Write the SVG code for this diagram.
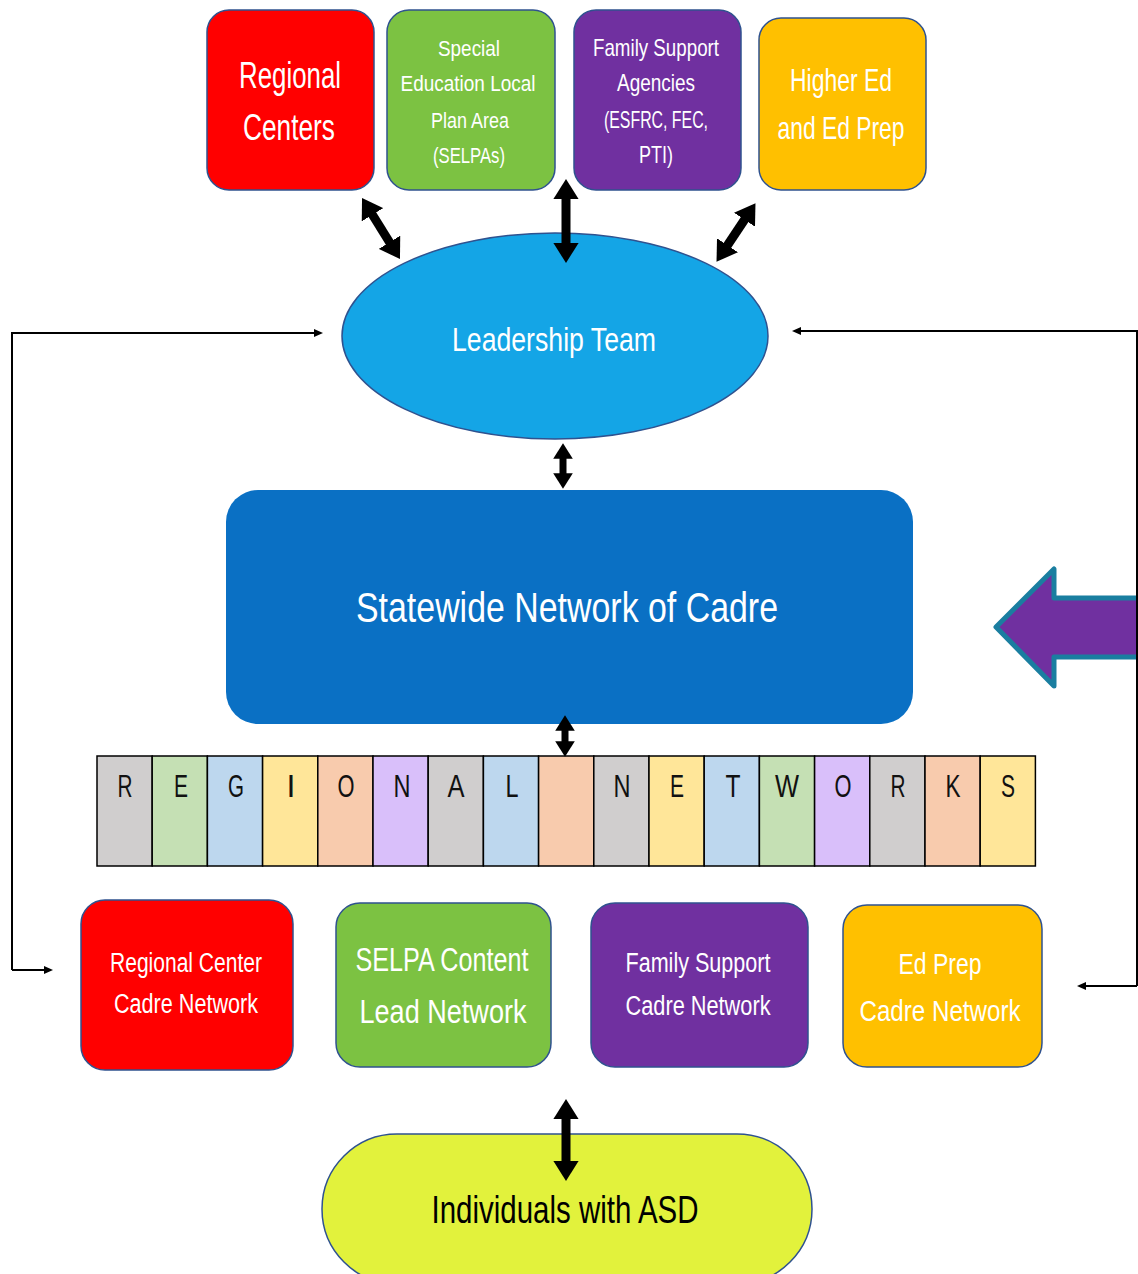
<svg xmlns="http://www.w3.org/2000/svg" width="1138" height="1274" viewBox="0 0 1138 1274">
<defs>
<marker id="big" viewBox="0 -1.4 2.2 2.8" refX="0.1" refY="0" markerWidth="2.2" markerHeight="2.8" orient="auto-start-reverse"><path d="M0,-1.4 L2.2,0 L0,1.4 z" fill="#000"/></marker>
<marker id="thin" viewBox="0 -4 9 8" refX="1" refY="0" markerUnits="userSpaceOnUse" markerWidth="9" markerHeight="8" orient="auto"><path d="M0,-4 L9,0 L0,4 z" fill="#000"/></marker>
<style>
.t{font-family:"Liberation Sans Narrow","Liberation Sans",Arial,sans-serif;text-anchor:middle;fill:#fff}
.k{fill:#000}
.box{stroke:#2F528F;stroke-width:1.5}
.red{fill:#FF0000}.grn{fill:#7CC242}.pur{fill:#7030A0}.org{fill:#FFC000}
.dbl{stroke:#000;stroke-width:9;fill:none;marker-start:url(#big);marker-end:url(#big)}
.fb{stroke:#000;stroke-width:2;fill:none}
.cell{stroke:#000;stroke-width:1.5}
.let{font-family:"Liberation Sans Narrow","Liberation Sans",Arial,sans-serif;font-size:32px;text-anchor:middle;fill:#111}
</style>
</defs>
<rect width="1138" height="1274" fill="#fff"/>

<g id="regional-centers"><rect class="box red" x="207" y="10" width="167" height="180" rx="22"/>
<text class="t" x="290" y="88" font-size="36" textLength="102" lengthAdjust="spacingAndGlyphs">Regional</text>
<text class="t" x="289" y="140" font-size="36" textLength="92" lengthAdjust="spacingAndGlyphs">Centers</text></g>

<g id="selpas"><rect class="box grn" x="387" y="10" width="168" height="180" rx="22"/>
<text class="t" x="469" y="56" font-size="22" textLength="62" lengthAdjust="spacingAndGlyphs">Special</text>
<text class="t" x="468" y="91" font-size="22" textLength="135" lengthAdjust="spacingAndGlyphs">Education Local</text>
<text class="t" x="470" y="128" font-size="22" textLength="78" lengthAdjust="spacingAndGlyphs">Plan Area</text>
<text class="t" x="469" y="163" font-size="22" textLength="72" lengthAdjust="spacingAndGlyphs">(SELPAs)</text></g>

<g id="family-support-agencies"><rect class="box pur" x="574" y="10" width="167" height="180" rx="22"/>
<text class="t" x="656" y="56" font-size="24" textLength="126" lengthAdjust="spacingAndGlyphs">Family Support</text>
<text class="t" x="656" y="91" font-size="24" textLength="78" lengthAdjust="spacingAndGlyphs">Agencies</text>
<text class="t" x="656" y="128" font-size="24" textLength="104" lengthAdjust="spacingAndGlyphs">(ESFRC, FEC,</text>
<text class="t" x="656" y="163" font-size="24" textLength="34" lengthAdjust="spacingAndGlyphs">PTI)</text></g>

<g id="higher-ed"><rect class="box org" x="759" y="18" width="167" height="172" rx="22"/>
<text class="t" x="841" y="91" font-size="32" textLength="102" lengthAdjust="spacingAndGlyphs">Higher Ed</text>
<text class="t" x="841" y="139" font-size="32" textLength="127" lengthAdjust="spacingAndGlyphs">and Ed Prep</text></g>

<g id="leadership-team"><ellipse cx="555" cy="336" rx="213" ry="103" fill="#14A5E6" stroke="#2F528F" stroke-width="1.5"/>
<text class="t" x="554" y="351" font-size="34" textLength="204" lengthAdjust="spacingAndGlyphs">Leadership Team</text></g>

<g id="statewide-network"><rect x="226" y="490" width="687" height="234" rx="32" fill="#0A70C4"/>
<text class="t" x="567" y="622" font-size="42" textLength="422" lengthAdjust="spacingAndGlyphs">Statewide Network of Cadre</text></g>

<g id="regional-networks">
<rect class="cell" x="97" y="756" width="55.2" height="110" fill="#D0CECE"/>
<rect class="cell" x="152.2" y="756" width="55.2" height="110" fill="#C5E0B4"/>
<rect class="cell" x="207.4" y="756" width="55.2" height="110" fill="#BDD7EE"/>
<rect class="cell" x="262.6" y="756" width="55.2" height="110" fill="#FFE699"/>
<rect class="cell" x="317.8" y="756" width="55.2" height="110" fill="#F8CBAD"/>
<rect class="cell" x="373" y="756" width="55.2" height="110" fill="#D9BFFA"/>
<rect class="cell" x="428.2" y="756" width="55.2" height="110" fill="#D0CECE"/>
<rect class="cell" x="483.4" y="756" width="55.2" height="110" fill="#BDD7EE"/>
<rect class="cell" x="538.6" y="756" width="55.2" height="110" fill="#F8CBAD"/>
<rect class="cell" x="593.8" y="756" width="55.2" height="110" fill="#D0CECE"/>
<rect class="cell" x="649" y="756" width="55.2" height="110" fill="#FFE699"/>
<rect class="cell" x="704.2" y="756" width="55.2" height="110" fill="#BDD7EE"/>
<rect class="cell" x="759.4" y="756" width="55.2" height="110" fill="#C5E0B4"/>
<rect class="cell" x="814.6" y="756" width="55.2" height="110" fill="#D9BFFA"/>
<rect class="cell" x="869.8" y="756" width="55.2" height="110" fill="#D0CECE"/>
<rect class="cell" x="925" y="756" width="55.2" height="110" fill="#F8CBAD"/>
<rect class="cell" x="980.2" y="756" width="55.2" height="110" fill="#FFE699"/>
<text class="let" x="125" y="797" textLength="15" lengthAdjust="spacingAndGlyphs">R</text>
<text class="let" x="181" y="797" textLength="14" lengthAdjust="spacingAndGlyphs">E</text>
<text class="let" x="236" y="797" textLength="16" lengthAdjust="spacingAndGlyphs">G</text>
<text class="let" x="291" y="797">I</text>
<text class="let" x="346" y="797" textLength="17" lengthAdjust="spacingAndGlyphs">O</text>
<text class="let" x="402" y="797" textLength="17" lengthAdjust="spacingAndGlyphs">N</text>
<text class="let" x="456" y="797" textLength="17" lengthAdjust="spacingAndGlyphs">A</text>
<text class="let" x="512" y="797" textLength="13" lengthAdjust="spacingAndGlyphs">L</text>
<text class="let" x="622" y="797" textLength="17" lengthAdjust="spacingAndGlyphs">N</text>
<text class="let" x="677" y="797" textLength="14" lengthAdjust="spacingAndGlyphs">E</text>
<text class="let" x="733" y="797" textLength="15" lengthAdjust="spacingAndGlyphs">T</text>
<text class="let" x="787" y="797" textLength="24" lengthAdjust="spacingAndGlyphs">W</text>
<text class="let" x="843" y="797" textLength="17" lengthAdjust="spacingAndGlyphs">O</text>
<text class="let" x="898" y="797" textLength="15" lengthAdjust="spacingAndGlyphs">R</text>
<text class="let" x="953" y="797" textLength="15" lengthAdjust="spacingAndGlyphs">K</text>
<text class="let" x="1008" y="797" textLength="14" lengthAdjust="spacingAndGlyphs">S</text>
</g>

<g id="regional-center-cadre"><rect class="box red" x="81" y="900" width="212" height="170" rx="24"/>
<text class="t" x="186" y="972" font-size="27" textLength="152" lengthAdjust="spacingAndGlyphs">Regional Center</text>
<text class="t" x="186" y="1013" font-size="27" textLength="144" lengthAdjust="spacingAndGlyphs">Cadre Network</text></g>

<g id="selpa-content-lead"><rect class="box grn" x="336" y="903" width="215" height="164" rx="24"/>
<text class="t" x="442" y="971" font-size="33" textLength="173" lengthAdjust="spacingAndGlyphs">SELPA Content</text>
<text class="t" x="443" y="1023" font-size="33" textLength="167" lengthAdjust="spacingAndGlyphs">Lead Network</text></g>

<g id="family-support-cadre"><rect class="box pur" x="591" y="903" width="217" height="164" rx="24"/>
<text class="t" x="698" y="972" font-size="27" textLength="145" lengthAdjust="spacingAndGlyphs">Family Support</text>
<text class="t" x="698" y="1015" font-size="27" textLength="145" lengthAdjust="spacingAndGlyphs">Cadre Network</text></g>

<g id="ed-prep-cadre"><rect class="box org" x="843" y="905" width="199" height="162" rx="24"/>
<text class="t" x="940" y="974" font-size="30" textLength="83" lengthAdjust="spacingAndGlyphs">Ed Prep</text>
<text class="t" x="940" y="1021" font-size="30" textLength="161" lengthAdjust="spacingAndGlyphs">Cadre Network</text></g>

<g id="individuals-asd"><rect x="322" y="1134" width="490" height="150" rx="75" ry="75" fill="#E2F23C" stroke="#2F528F" stroke-width="1.5"/>
<text class="t k" x="565" y="1223" font-size="38" textLength="267" lengthAdjust="spacingAndGlyphs">Individuals with ASD</text></g>

<g id="purple-arrow"><polygon points="996,627 1054,569 1054,598 1140,598 1140,657 1054,657 1054,686" fill="#7030A0" stroke="#1A7EA0" stroke-width="5" stroke-linejoin="round"/></g>

<g id="connectors">
<line class="dbl" x1="372" y1="214" x2="390" y2="243"/>
<line class="dbl" x1="566" y1="198" x2="566" y2="244"/>
<line class="dbl" x1="745" y1="219" x2="727" y2="246"/>
<line class="dbl" x1="563" y1="458" x2="563" y2="474" style="stroke-width:7"/>
<line class="dbl" x1="565" y1="730" x2="565" y2="742" style="stroke-width:7"/>
<line class="dbl" x1="566" y1="1118" x2="566" y2="1162"/>
<polyline class="fb" points="12,970 12,333 315,333" marker-end="url(#thin)"/>
<line class="fb" x1="12" y1="970" x2="45" y2="970" marker-end="url(#thin)"/>
<polyline class="fb" points="1137,986 1137,331 800,331" marker-end="url(#thin)"/>
<line class="fb" x1="1137" y1="986" x2="1085" y2="986" marker-end="url(#thin)"/>
</g>
</svg>
